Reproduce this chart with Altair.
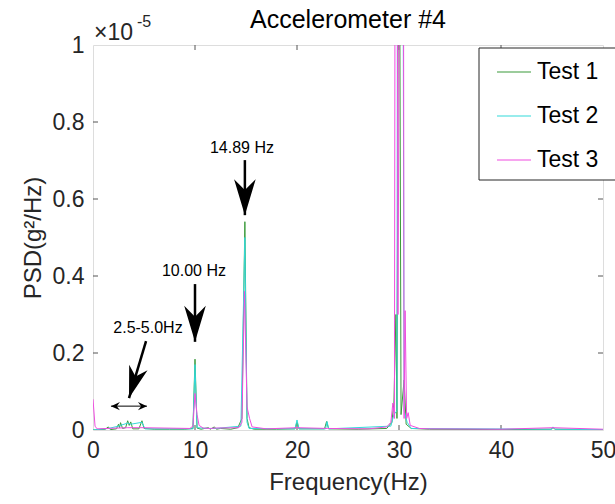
import altair as alt
import pandas as pd

# PSD spectra (units of 1e-5 g^2/Hz) for the three tests
t1_freq = [0.0, 0.5, 1.2, 1.5, 1.7, 2.3, 2.5, 2.6, 2.7, 2.9, 3.2, 3.4, 3.55, 3.7, 3.9, 4.5, 4.8, 5.0,
           6.0, 7.5, 9.0, 9.8, 10.0, 10.2, 10.6, 11.3, 11.5, 11.9, 12.1, 12.5, 13.5, 14.2, 14.4, 14.6,
           14.89, 15.1, 15.3, 15.8, 18.0, 19.8, 20.0, 20.2, 22.7, 22.9, 23.1, 26.0, 28.8, 29.3, 29.5,
           29.7, 29.8, 30.0, 30.2, 30.5, 30.7, 31.2, 33.0, 40.0, 44.9, 45.1, 45.3, 50.0]
t1_psd = [0.0, 0.001, 0.002, 0.008, 0.001, 0.003, 0.015, 0.006, 0.019, 0.004, 0.006, 0.024, 0.012, 0.021,
          0.003, 0.003, 0.024, 0.004, 0.002, 0.002, 0.002, 0.004, 0.184, 0.005, 0.002, 0.006, 0.002,
          0.008, 0.002, 0.004, 0.002, 0.006, 0.018, 0.03, 0.541, 0.03, 0.006, 0.002, 0.002, 0.003, 0.02,
          0.003, 0.003, 0.022, 0.003, 0.002, 0.004, 0.02, 0.07, 0.30, 0.03, 1.8, 0.04, 0.13, 0.015,
          0.004, 0.002, 0.001, 0.002, 0.006, 0.002, 0.001]

t2_freq = [0.0, 1.5, 2.5, 2.7, 3.4, 3.7, 4.8, 5.1, 9.8, 10.0, 10.2, 11.3, 12.0, 14.5, 14.89, 15.1, 15.3,
           19.8, 20.0, 20.2, 22.8, 22.95, 23.1, 29.2, 29.5, 29.8, 29.9, 30.1, 30.3, 30.5, 30.8, 31.2,
           45.0, 45.1, 45.3, 50.0]
t2_psd = [0.0, 0.004, 0.01, 0.012, 0.018, 0.015, 0.02, 0.003, 0.003, 0.17, 0.006, 0.004, 0.004, 0.01,
          0.50, 0.02, 0.004, 0.003, 0.026, 0.003, 0.003, 0.022, 0.003, 0.01, 0.04, 0.05, 2.5, 1.2, 2.5,
          0.05, 0.02, 0.004, 0.002, 0.008, 0.002, 0.001]

t3_freq = [0.0, 0.2, 0.4, 3.4, 4.8, 9.5, 9.8, 10.0, 10.2, 10.4, 10.8, 11.5, 12.0, 14.3, 14.6, 14.85,
           15.1, 15.35, 15.6, 17.0, 20.0, 23.0, 27.0, 28.8, 29.2, 29.4, 29.55, 29.7, 29.9, 30.35, 30.5,
           30.6, 30.75, 30.9, 31.1, 32.0, 33.0, 40.0, 45.1, 50.0]
t3_psd = [0.08, 0.01, 0.003, 0.006, 0.006, 0.004, 0.01, 0.095, 0.04, 0.012, 0.005, 0.004, 0.005, 0.006,
          0.02, 0.36, 0.06, 0.03, 0.008, 0.003, 0.006, 0.004, 0.003, 0.008, 0.02, 0.07, 0.03, 3.0, 0.3,
          3.0, 0.03, 0.31, 0.03, 0.045, 0.012, 0.004, 0.003, 0.002, 0.006, 0.002]

series = ["Test 1", "Test 2", "Test 3"]
colors = ["#3a9a3a", "#33d9d9", "#f04de0"]

x_ticks = [0, 10, 20, 30, 40, 50]
y_ticks = [0, 0.2, 0.4, 0.6, 0.8, 1.0]

# Peak annotations: label, label position, arrow tail and arrow tip
ann_label = ["14.89 Hz", "10.00 Hz", "2.5-5.0Hz"]
ann_label_x = [14.6, 9.9, 5.39]
ann_label_y = [0.732, 0.413, 0.265]
ann_tail_x = [14.89, 10.0, 5.2]
ann_tail_y = [0.701, 0.379, 0.231]
ann_tip_x = [14.89, 10.0, 3.53]
ann_tip_y = [0.558, 0.229, 0.083]
band_x = [1.76, 5.29]
band_y = [0.062, 0.062]

W, H = 510, 385
FONT = "Liberation Sans"
INK = "#262626"

rows = []
for name, fr, ps in zip(series, [t1_freq, t2_freq, t3_freq], [t1_psd, t2_psd, t3_psd]):
    for f, p in zip(fr, ps):
        rows.append({"Frequency": f, "PSD": p, "Series": name})
df = pd.DataFrame(rows)

xs = alt.Scale(domain=[0, 50], nice=False, zero=False)
ys = alt.Scale(domain=[0, 1], nice=False)

# legend frame, drawn as a mark so it can run past the right edge
legend_box = alt.Chart(pd.DataFrame({"k": [0]})).mark_rect(
    fill="white", stroke=INK, strokeWidth=1).encode(
    x=alt.value(386), x2=alt.value(W + 30), y=alt.value(3), y2=alt.value(135))

lines = alt.Chart(df).mark_line(strokeWidth=1, clip=True).encode(
    x=alt.X("Frequency:Q", scale=xs,
            axis=alt.Axis(values=x_ticks, title="Frequency(Hz)", grid=False, ticks=False,
                          domain=False, labelFontSize=23, titleFontSize=24, labelPadding=9,
                          titlePadding=8, labelColor=INK, titleColor=INK, labelFlush=False,
                          labelFont=FONT, titleFont=FONT, titleFontWeight="normal")),
    y=alt.Y("PSD:Q", scale=ys,
            axis=alt.Axis(values=y_ticks, title="PSD(g²/Hz)", grid=False, ticks=False,
                          domain=False, format="~g", labelFontSize=23, titleFontSize=24,
                          labelPadding=9, titlePadding=7, labelColor=INK, labelFlush=False,
                          titleColor=INK, labelFont=FONT, titleFont=FONT,
                          titleFontWeight="normal")),
    color=alt.Color("Series:N", scale=alt.Scale(domain=series, range=colors),
                    legend=alt.Legend(title=None, orient="none", legendX=386, legendY=3,
                                      symbolType="stroke", symbolSize=1156, symbolStrokeWidth=1.2,
                                      labelFontSize=23, labelFont=FONT, labelColor="#000000",
                                      padding=6, symbolOffset=11, rowPadding=14, labelOffset=5)),
)

ann = pd.DataFrame({"label": ann_label, "lx": ann_label_x, "ly": ann_label_y,
                    "tx": ann_tail_x, "ty": ann_tail_y, "hx": ann_tip_x, "hy": ann_tip_y})

labels = alt.Chart(ann).mark_text(fontSize=16, font=FONT, color="black", baseline="middle").encode(
    x=alt.X("lx:Q", scale=xs), y=alt.Y("ly:Q", scale=ys), text="label:N")

shafts = alt.Chart(ann).mark_rule(strokeWidth=2.5, color="black").encode(
    x=alt.X("tx:Q", scale=xs), y=alt.Y("ty:Q", scale=ys),
    x2="hx:Q", y2="hy:Q")

head_path = "M0,0 L-0.6,-2 L0,-1.4 L0.6,-2 Z"
vert_heads = alt.Chart(ann.iloc[:2]).mark_point(
    shape=head_path, size=1296, filled=True, color="black", opacity=1).encode(
    x=alt.X("hx:Q", scale=xs), y=alt.Y("hy:Q", scale=ys))
diag_head = alt.Chart(ann.iloc[2:]).mark_point(
    shape=head_path, size=1024, filled=True, color="black", opacity=1, angle=17).encode(
    x=alt.X("hx:Q", scale=xs), y=alt.Y("hy:Q", scale=ys))

band = pd.DataFrame({"x": band_x, "y": band_y, "ang": [90, 270]})
band_line = alt.Chart(band).mark_line(strokeWidth=1, color="black").encode(
    x=alt.X("x:Q", scale=xs), y=alt.Y("y:Q", scale=ys))
small_path = "M0,0 L-0.9,-2 L0,-1.3 L0.9,-2 Z"
band_heads = alt.Chart(band).mark_point(
    shape=small_path, size=81, filled=True, color="black", opacity=1).encode(
    x=alt.X("x:Q", scale=xs), y=alt.Y("y:Q", scale=ys), angle=alt.Angle("ang:Q", scale=None))

# inward ticks on all four sides of the box
tick_col = "#555555"
xt = pd.DataFrame({"v": x_ticks[1:-1]})
yt = pd.DataFrame({"v": y_ticks[1:-1]})
bottom_ticks = alt.Chart(xt).mark_rule(color=tick_col, strokeWidth=1).encode(
    x=alt.X("v:Q", scale=xs), y=alt.value(H), y2=alt.value(H - 5))
top_ticks = alt.Chart(xt).mark_rule(color=tick_col, strokeWidth=1).encode(
    x=alt.X("v:Q", scale=xs), y=alt.value(0), y2=alt.value(5))
left_ticks = alt.Chart(yt).mark_rule(color=tick_col, strokeWidth=1).encode(
    y=alt.Y("v:Q", scale=ys), x=alt.value(0), x2=alt.value(5))
right_ticks = alt.Chart(yt).mark_rule(color=tick_col, strokeWidth=1).encode(
    y=alt.Y("v:Q", scale=ys), x=alt.value(W), x2=alt.value(W - 5))

# axis multiplier and chart title
exp_base = alt.Chart(pd.DataFrame({"t": ["×10"]})).mark_text(
    fontSize=23, font=FONT, color=INK, align="left", baseline="middle").encode(
    x=alt.value(1), y=alt.value(-12), text="t:N")
exp_pow = alt.Chart(pd.DataFrame({"t": ["-5"]})).mark_text(
    fontSize=16, font=FONT, color=INK, align="left", baseline="middle").encode(
    x=alt.value(44), y=alt.value(-23), text="t:N")
title = alt.Chart(pd.DataFrame({"t": ["Accelerometer #4"]})).mark_text(
    fontSize=25, font=FONT, color="black", align="center", baseline="middle").encode(
    x=alt.value(W / 2), y=alt.value(-25), text="t:N")

chart = alt.layer(
    bottom_ticks, top_ticks, left_ticks, right_ticks,
    lines, legend_box, labels, shafts, vert_heads, diag_head, band_line, band_heads,
    exp_base, exp_pow, title,
).properties(
    width=W, height=H,
    autosize=alt.AutoSizeParams(type="none"),
    padding={"left": 93, "top": 45, "right": 12, "bottom": 74},
).configure_view(stroke="#555555", strokeWidth=1).configure(background="white")

chart.save("out.html", embed_options={"renderer": "svg", "actions": False})
